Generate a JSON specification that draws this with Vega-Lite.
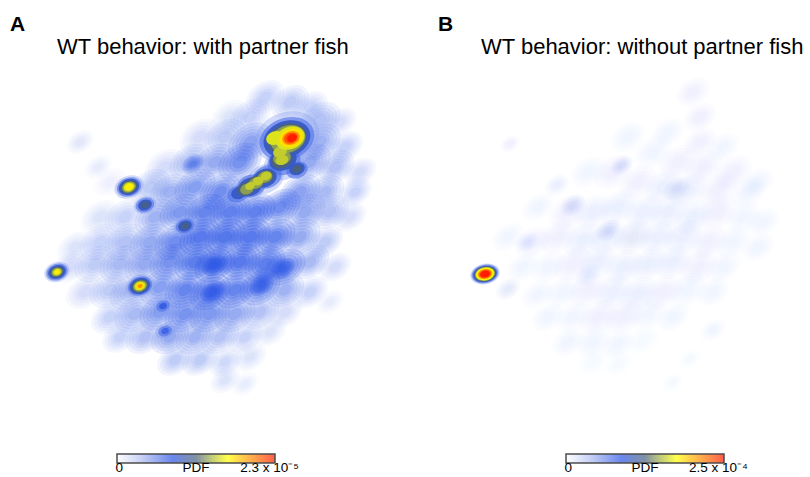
{
  "$schema": "https://vega.github.io/schema/vega-lite/v6.json",
  "background": "white",
  "padding": {"left": 10, "right": 2, "top": 14, "bottom": 0},
  "spacing": 38,
  "config": {
    "view": {"stroke": null},
    "title": {"anchor": "start", "font": "Liberation Sans", "color": "#000"},
    "legend": {"orient": "none", "legendY": 382, "direction": "horizontal", "title": null, "gradientLength": 158, "gradientThickness": 9, "gradientStrokeColor": "#000", "gradientStrokeWidth": 1.5, "labelFontSize": 13.5, "labelFont": "Liberation Sans", "labelColor": "#000", "labelOverlap": false}
  },
  "datasets": {
    "cloudA": [
      {"x": 255, "y": 25, "r": 14, "w": 0.2}, {"x": 280, "y": 30, "r": 14, "w": 0.25}, {"x": 300, "y": 35, "r": 13, "w": 0.2},
      {"x": 220, "y": 45, "r": 14, "w": 0.12}, {"x": 240, "y": 45, "r": 15, "w": 0.2}, {"x": 310, "y": 48, "r": 15, "w": 0.3}, {"x": 330, "y": 50, "r": 12, "w": 0.15},
      {"x": 190, "y": 65, "r": 15, "w": 0.15}, {"x": 215, "y": 65, "r": 15, "w": 0.25}, {"x": 240, "y": 70, "r": 16, "w": 0.5}, {"x": 310, "y": 70, "r": 15, "w": 0.4}, {"x": 335, "y": 75, "r": 13, "w": 0.2},
      {"x": 155, "y": 95, "r": 15, "w": 0.15}, {"x": 180, "y": 90, "r": 15, "w": 0.3}, {"x": 205, "y": 90, "r": 15, "w": 0.45}, {"x": 230, "y": 90, "r": 16, "w": 0.65}, {"x": 300, "y": 90, "r": 15, "w": 0.45}, {"x": 325, "y": 95, "r": 14, "w": 0.3}, {"x": 350, "y": 100, "r": 12, "w": 0.15},
      {"x": 100, "y": 110, "r": 12, "w": 0.06}, {"x": 140, "y": 115, "r": 15, "w": 0.25}, {"x": 160, "y": 120, "r": 15, "w": 0.4}, {"x": 185, "y": 115, "r": 15, "w": 0.55}, {"x": 210, "y": 120, "r": 15, "w": 0.7}, {"x": 290, "y": 120, "r": 15, "w": 0.5}, {"x": 315, "y": 120, "r": 14, "w": 0.35}, {"x": 345, "y": 120, "r": 12, "w": 0.2},
      {"x": 90, "y": 145, "r": 14, "w": 0.12}, {"x": 115, "y": 145, "r": 15, "w": 0.2}, {"x": 145, "y": 145, "r": 15, "w": 0.4}, {"x": 170, "y": 140, "r": 15, "w": 0.6}, {"x": 195, "y": 140, "r": 15, "w": 0.8}, {"x": 220, "y": 140, "r": 15, "w": 0.85}, {"x": 245, "y": 140, "r": 15, "w": 0.85}, {"x": 270, "y": 135, "r": 15, "w": 0.7}, {"x": 295, "y": 140, "r": 15, "w": 0.45}, {"x": 320, "y": 140, "r": 14, "w": 0.3}, {"x": 340, "y": 145, "r": 12, "w": 0.15},
      {"x": 65, "y": 175, "r": 13, "w": 0.12}, {"x": 90, "y": 170, "r": 15, "w": 0.2}, {"x": 115, "y": 170, "r": 15, "w": 0.3}, {"x": 140, "y": 170, "r": 15, "w": 0.45}, {"x": 165, "y": 170, "r": 15, "w": 0.7}, {"x": 190, "y": 165, "r": 15, "w": 0.95}, {"x": 215, "y": 165, "r": 15, "w": 1.0}, {"x": 240, "y": 165, "r": 15, "w": 0.95}, {"x": 265, "y": 165, "r": 15, "w": 0.8}, {"x": 290, "y": 165, "r": 15, "w": 0.45}, {"x": 315, "y": 170, "r": 13, "w": 0.25},
      {"x": 60, "y": 195, "r": 13, "w": 0.15}, {"x": 85, "y": 192, "r": 15, "w": 0.25}, {"x": 110, "y": 192, "r": 15, "w": 0.35}, {"x": 135, "y": 192, "r": 15, "w": 0.45}, {"x": 160, "y": 190, "r": 15, "w": 0.65}, {"x": 185, "y": 190, "r": 15, "w": 0.9}, {"x": 205, "y": 192, "r": 15, "w": 1.0}, {"x": 230, "y": 190, "r": 15, "w": 0.95}, {"x": 255, "y": 192, "r": 15, "w": 0.9}, {"x": 275, "y": 195, "r": 15, "w": 0.75}, {"x": 300, "y": 190, "r": 14, "w": 0.35}, {"x": 325, "y": 195, "r": 12, "w": 0.15},
      {"x": 75, "y": 220, "r": 14, "w": 0.15}, {"x": 100, "y": 218, "r": 15, "w": 0.25}, {"x": 120, "y": 220, "r": 15, "w": 0.3}, {"x": 150, "y": 215, "r": 15, "w": 0.55}, {"x": 175, "y": 218, "r": 15, "w": 0.8}, {"x": 200, "y": 220, "r": 15, "w": 0.95}, {"x": 225, "y": 218, "r": 15, "w": 0.8}, {"x": 250, "y": 215, "r": 15, "w": 0.8}, {"x": 275, "y": 218, "r": 14, "w": 0.4}, {"x": 300, "y": 220, "r": 13, "w": 0.2},
      {"x": 100, "y": 245, "r": 14, "w": 0.2}, {"x": 125, "y": 242, "r": 15, "w": 0.35}, {"x": 150, "y": 240, "r": 15, "w": 0.55}, {"x": 175, "y": 242, "r": 15, "w": 0.65}, {"x": 200, "y": 242, "r": 15, "w": 0.6}, {"x": 225, "y": 242, "r": 15, "w": 0.45}, {"x": 250, "y": 240, "r": 14, "w": 0.3}, {"x": 275, "y": 240, "r": 13, "w": 0.15},
      {"x": 110, "y": 265, "r": 13, "w": 0.2}, {"x": 135, "y": 265, "r": 14, "w": 0.3}, {"x": 160, "y": 265, "r": 14, "w": 0.45}, {"x": 185, "y": 265, "r": 14, "w": 0.4}, {"x": 210, "y": 265, "r": 14, "w": 0.3}, {"x": 235, "y": 265, "r": 13, "w": 0.2}, {"x": 260, "y": 260, "r": 12, "w": 0.12},
      {"x": 165, "y": 288, "r": 13, "w": 0.25}, {"x": 190, "y": 288, "r": 13, "w": 0.25}, {"x": 215, "y": 290, "r": 12, "w": 0.18}, {"x": 240, "y": 285, "r": 12, "w": 0.12},
      {"x": 215, "y": 308, "r": 11, "w": 0.12}, {"x": 235, "y": 312, "r": 10, "w": 0.08},
      {"x": 70, "y": 70, "r": 10, "w": 0.1}, {"x": 88, "y": 95, "r": 10, "w": 0.08}, {"x": 320, "y": 230, "r": 10, "w": 0.08},
      {"x": 205, "y": 193, "r": 9, "w": 0.9}, {"x": 272, "y": 197, "r": 9, "w": 0.8}, {"x": 203, "y": 220, "r": 9, "w": 0.85}, {"x": 252, "y": 212, "r": 9, "w": 0.8}, {"x": 183, "y": 92, "r": 8, "w": 0.6}
    ],
    "peaksA": [
      {"x": 277, "y": 65, "r": 33, "d": 0.22}, {"x": 274, "y": 92, "r": 21, "d": 0.22}, {"x": 255, "y": 107, "r": 19, "d": 0.22}, {"x": 237, "y": 117, "r": 18, "d": 0.22},
      {"x": 119, "y": 115, "r": 15, "d": 0.22}, {"x": 135, "y": 133, "r": 11.5, "d": 0.22}, {"x": 175, "y": 154, "r": 11.5, "d": 0.22}, {"x": 47, "y": 200, "r": 13, "d": 0.22}, {"x": 130, "y": 214, "r": 15, "d": 0.22}, {"x": 153, "y": 234, "r": 10, "d": 0.22}, {"x": 155, "y": 259, "r": 10, "d": 0.22},
      {"x": 277, "y": 67, "r": 28, "d": 0.3}, {"x": 274, "y": 90, "r": 17, "d": 0.3}, {"x": 287, "y": 98, "r": 11, "d": 0.3}, {"x": 257, "y": 105, "r": 15, "d": 0.3}, {"x": 241, "y": 114, "r": 15, "d": 0.3}, {"x": 228, "y": 122, "r": 11, "d": 0.3},
      {"x": 119, "y": 115, "r": 12.5, "d": 0.3}, {"x": 135, "y": 133, "r": 9.5, "d": 0.3}, {"x": 175, "y": 154, "r": 9.5, "d": 0.3}, {"x": 47, "y": 200, "r": 11, "d": 0.3}, {"x": 130, "y": 214, "r": 12.5, "d": 0.3}, {"x": 153, "y": 234, "r": 7, "d": 0.3}, {"x": 155, "y": 259, "r": 7, "d": 0.3},
      {"x": 155, "y": 259, "r": 4, "d": 0.34}, {"x": 153, "y": 234, "r": 4, "d": 0.36},
      {"x": 277, "y": 67, "r": 24, "d": 0.4}, {"x": 273, "y": 88, "r": 14, "d": 0.4}, {"x": 287, "y": 97, "r": 8, "d": 0.4}, {"x": 255, "y": 106, "r": 12, "d": 0.4}, {"x": 240, "y": 115, "r": 12, "d": 0.4}, {"x": 229, "y": 121, "r": 8, "d": 0.4},
      {"x": 119, "y": 115, "r": 10.5, "d": 0.4}, {"x": 135, "y": 133, "r": 7, "d": 0.4}, {"x": 175, "y": 154, "r": 7, "d": 0.4}, {"x": 47, "y": 200, "r": 9, "d": 0.4}, {"x": 130, "y": 214, "r": 10.5, "d": 0.4},
      {"x": 135, "y": 133, "r": 4.5, "d": 0.48}, {"x": 175, "y": 154, "r": 4.5, "d": 0.48},
      {"x": 277, "y": 67, "r": 20, "d": 0.5}, {"x": 272, "y": 88, "r": 11, "d": 0.5}, {"x": 287, "y": 97, "r": 5, "d": 0.5}, {"x": 255, "y": 105, "r": 9, "d": 0.5}, {"x": 245, "y": 111, "r": 9, "d": 0.5}, {"x": 236, "y": 117, "r": 9, "d": 0.5},
      {"x": 119, "y": 115, "r": 8.5, "d": 0.5}, {"x": 47, "y": 200, "r": 7, "d": 0.5}, {"x": 130, "y": 214, "r": 8.5, "d": 0.5},
      {"x": 278, "y": 67, "r": 18, "d": 0.57}, {"x": 272, "y": 86, "r": 9, "d": 0.57}, {"x": 255, "y": 105, "r": 7.5, "d": 0.57}, {"x": 246, "y": 111, "r": 7.5, "d": 0.57}, {"x": 237, "y": 117, "r": 7, "d": 0.57},
      {"x": 119, "y": 115, "r": 7, "d": 0.58}, {"x": 47, "y": 200, "r": 5.5, "d": 0.58}, {"x": 130, "y": 214, "r": 7, "d": 0.58},
      {"x": 270, "y": 80, "r": 7, "d": 0.63}, {"x": 272, "y": 88, "r": 6.5, "d": 0.63}, {"x": 256, "y": 104, "r": 5.5, "d": 0.63}, {"x": 248, "y": 109, "r": 5.5, "d": 0.63}, {"x": 240, "y": 114, "r": 5, "d": 0.63},
      {"x": 280, "y": 66, "r": 15, "d": 0.66}, {"x": 265, "y": 66, "r": 9, "d": 0.66},
      {"x": 119, "y": 115, "r": 5.5, "d": 0.66}, {"x": 47, "y": 200, "r": 4, "d": 0.66}, {"x": 130, "y": 214, "r": 5.5, "d": 0.66},
      {"x": 119, "y": 115, "r": 4, "d": 0.72}, {"x": 47, "y": 200, "r": 2.5, "d": 0.72},
      {"x": 281, "y": 66, "r": 12, "d": 0.74}, {"x": 130, "y": 214, "r": 4, "d": 0.74},
      {"x": 281, "y": 66, "r": 9, "d": 0.84}, {"x": 130, "y": 214, "r": 2.5, "d": 0.84},
      {"x": 281, "y": 66, "r": 7, "d": 0.93},
      {"x": 282, "y": 66, "r": 5, "d": 1.0}
    ],
    "cloudB": [
      {"x": 255, "y": 20, "r": 12, "w": 0.07}, {"x": 262, "y": 45, "r": 12, "w": 0.08}, {"x": 262, "y": 70, "r": 12, "w": 0.08},
      {"x": 230, "y": 60, "r": 12, "w": 0.05}, {"x": 285, "y": 75, "r": 12, "w": 0.06},
      {"x": 190, "y": 65, "r": 13, "w": 0.05}, {"x": 215, "y": 80, "r": 14, "w": 0.06}, {"x": 240, "y": 90, "r": 14, "w": 0.08}, {"x": 265, "y": 95, "r": 14, "w": 0.07}, {"x": 295, "y": 100, "r": 14, "w": 0.07}, {"x": 320, "y": 110, "r": 12, "w": 0.05},
      {"x": 150, "y": 100, "r": 13, "w": 0.06}, {"x": 175, "y": 100, "r": 14, "w": 0.07}, {"x": 200, "y": 110, "r": 14, "w": 0.08}, {"x": 225, "y": 115, "r": 14, "w": 0.09}, {"x": 250, "y": 118, "r": 14, "w": 0.09}, {"x": 280, "y": 118, "r": 14, "w": 0.08}, {"x": 310, "y": 120, "r": 13, "w": 0.06},
      {"x": 100, "y": 135, "r": 12, "w": 0.05}, {"x": 130, "y": 140, "r": 14, "w": 0.08}, {"x": 155, "y": 140, "r": 14, "w": 0.09}, {"x": 180, "y": 135, "r": 14, "w": 0.1}, {"x": 205, "y": 140, "r": 14, "w": 0.1}, {"x": 230, "y": 140, "r": 14, "w": 0.09}, {"x": 255, "y": 145, "r": 14, "w": 0.09}, {"x": 280, "y": 140, "r": 14, "w": 0.08}, {"x": 305, "y": 145, "r": 13, "w": 0.06}, {"x": 325, "y": 150, "r": 12, "w": 0.05},
      {"x": 70, "y": 165, "r": 12, "w": 0.06}, {"x": 95, "y": 170, "r": 13, "w": 0.08}, {"x": 120, "y": 165, "r": 14, "w": 0.08}, {"x": 145, "y": 168, "r": 14, "w": 0.09}, {"x": 170, "y": 165, "r": 14, "w": 0.1}, {"x": 195, "y": 165, "r": 14, "w": 0.11}, {"x": 220, "y": 165, "r": 14, "w": 0.1}, {"x": 245, "y": 165, "r": 14, "w": 0.09}, {"x": 270, "y": 170, "r": 14, "w": 0.08}, {"x": 295, "y": 170, "r": 13, "w": 0.06}, {"x": 320, "y": 175, "r": 12, "w": 0.05},
      {"x": 85, "y": 195, "r": 12, "w": 0.05}, {"x": 110, "y": 195, "r": 13, "w": 0.06}, {"x": 135, "y": 192, "r": 14, "w": 0.08}, {"x": 160, "y": 190, "r": 14, "w": 0.09}, {"x": 185, "y": 195, "r": 14, "w": 0.1}, {"x": 210, "y": 192, "r": 14, "w": 0.09}, {"x": 235, "y": 190, "r": 14, "w": 0.09}, {"x": 260, "y": 195, "r": 14, "w": 0.08}, {"x": 285, "y": 195, "r": 13, "w": 0.06},
      {"x": 70, "y": 217, "r": 9, "w": 0.12},
      {"x": 100, "y": 222, "r": 12, "w": 0.05}, {"x": 125, "y": 220, "r": 13, "w": 0.06}, {"x": 150, "y": 218, "r": 14, "w": 0.08}, {"x": 175, "y": 220, "r": 14, "w": 0.09}, {"x": 200, "y": 222, "r": 14, "w": 0.09}, {"x": 225, "y": 220, "r": 14, "w": 0.08}, {"x": 250, "y": 218, "r": 14, "w": 0.06}, {"x": 275, "y": 220, "r": 12, "w": 0.05},
      {"x": 110, "y": 245, "r": 12, "w": 0.05}, {"x": 135, "y": 245, "r": 13, "w": 0.06}, {"x": 160, "y": 245, "r": 14, "w": 0.08}, {"x": 185, "y": 245, "r": 14, "w": 0.08}, {"x": 210, "y": 242, "r": 13, "w": 0.06}, {"x": 235, "y": 245, "r": 12, "w": 0.05}, {"x": 275, "y": 258, "r": 9, "w": 0.06},
      {"x": 130, "y": 270, "r": 12, "w": 0.05}, {"x": 155, "y": 270, "r": 13, "w": 0.06}, {"x": 180, "y": 272, "r": 12, "w": 0.05}, {"x": 205, "y": 268, "r": 12, "w": 0.04},
      {"x": 155, "y": 290, "r": 11, "w": 0.04}, {"x": 180, "y": 292, "r": 10, "w": 0.04}, {"x": 235, "y": 310, "r": 8, "w": 0.03}, {"x": 252, "y": 287, "r": 8, "w": 0.03},
      {"x": 135, "y": 133, "r": 9, "w": 0.14}, {"x": 170, "y": 158, "r": 9, "w": 0.14}, {"x": 184, "y": 93, "r": 8, "w": 0.13}, {"x": 239, "y": 117, "r": 10, "w": 0.12}, {"x": 119, "y": 113, "r": 9, "w": 0.1}, {"x": 89, "y": 170, "r": 8, "w": 0.1}, {"x": 149, "y": 203, "r": 9, "w": 0.1}, {"x": 72, "y": 72, "r": 7, "w": 0.08}
    ],
    "peaksB": [
      {"x": 47, "y": 202, "r": 15, "d": 0.22}, {"x": 47, "y": 202, "r": 13.5, "d": 0.3}, {"x": 47, "y": 202, "r": 12, "d": 0.4}, {"x": 47, "y": 202, "r": 11, "d": 0.5}, {"x": 47, "y": 202, "r": 10, "d": 0.6}, {"x": 47, "y": 202, "r": 9, "d": 0.7}, {"x": 47, "y": 202, "r": 7.5, "d": 0.8}, {"x": 47, "y": 202, "r": 6.5, "d": 0.9}, {"x": 47, "y": 202, "r": 5, "d": 1.0}
    ]
  },
  "hconcat": [
    {
      "title": {"text": "A", "fontSize": 21, "fontWeight": "bold", "offset": 1},
      "vconcat": [
        {
          "width": 390, "height": 340,
          "title": {"text": "WT behavior: with partner fish", "fontSize": 22, "fontWeight": "normal", "dx": 47, "offset": 13},
          "layer": [
            {"data": {"name": "cloudA"}, "mark": {"type": "point", "filled": true, "shape": "M-1,0A1,0.7,0,1,1,1,0A1,0.7,0,1,1,-1,0Z", "angle": -35, "color": "#2a55e6", "strokeWidth": 0},
             "encoding": {"x": {"field": "x", "type": "quantitative", "scale": {"domain": [0, 390]}, "axis": null}, "y": {"field": "y", "type": "quantitative", "scale": {"domain": [0, 340], "reverse": true}, "axis": null},
              "size": {"field": "r", "type": "quantitative", "scale": {"type": "pow", "exponent": 2, "domain": [0, 40], "range": [0, 14400]}, "legend": null},
              "opacity": {"field": "w", "type": "quantitative", "scale": {"domain": [0, 1], "range": [0, 0.24]}, "legend": null}}},
            {"data": {"name": "cloudA"}, "mark": {"type": "point", "filled": true, "shape": "M-1,0A1,0.7,0,1,1,1,0A1,0.7,0,1,1,-1,0Z", "angle": -35, "color": "#2a55e6", "strokeWidth": 0},
             "encoding": {"x": {"field": "x", "type": "quantitative", "scale": {"domain": [0, 390]}, "axis": null}, "y": {"field": "y", "type": "quantitative", "scale": {"domain": [0, 340], "reverse": true}, "axis": null},
              "size": {"field": "r", "type": "quantitative", "scale": {"type": "pow", "exponent": 2, "domain": [0, 40], "range": [0, 10000]}, "legend": null},
              "opacity": {"field": "w", "type": "quantitative", "scale": {"domain": [0, 1], "range": [0, 0.25]}, "legend": null}}},
            {"data": {"name": "cloudA"}, "mark": {"type": "point", "filled": true, "shape": "M-1,0A1,0.7,0,1,1,1,0A1,0.7,0,1,1,-1,0Z", "angle": -35, "color": "#2a55e6", "strokeWidth": 0},
             "encoding": {"x": {"field": "x", "type": "quantitative", "scale": {"domain": [0, 390]}, "axis": null}, "y": {"field": "y", "type": "quantitative", "scale": {"domain": [0, 340], "reverse": true}, "axis": null},
              "size": {"field": "r", "type": "quantitative", "scale": {"type": "pow", "exponent": 2, "domain": [0, 40], "range": [0, 6400]}, "legend": null},
              "opacity": {"field": "w", "type": "quantitative", "scale": {"domain": [0, 1], "range": [0, 0.27]}, "legend": null}}},
            {"data": {"name": "cloudA"}, "mark": {"type": "point", "filled": true, "shape": "M-1,0A1,0.7,0,1,1,1,0A1,0.7,0,1,1,-1,0Z", "angle": -35, "color": "#2a55e6", "strokeWidth": 0},
             "encoding": {"x": {"field": "x", "type": "quantitative", "scale": {"domain": [0, 390]}, "axis": null}, "y": {"field": "y", "type": "quantitative", "scale": {"domain": [0, 340], "reverse": true}, "axis": null},
              "size": {"field": "r", "type": "quantitative", "scale": {"type": "pow", "exponent": 2, "domain": [0, 40], "range": [0, 3600]}, "legend": null},
              "opacity": {"field": "w", "type": "quantitative", "scale": {"domain": [0, 1], "range": [0, 0.29]}, "legend": null}}},
            {"data": {"name": "cloudA"}, "mark": {"type": "point", "filled": true, "shape": "M-1,0A1,0.7,0,1,1,1,0A1,0.7,0,1,1,-1,0Z", "angle": -35, "color": "#2a55e6", "strokeWidth": 0},
             "encoding": {"x": {"field": "x", "type": "quantitative", "scale": {"domain": [0, 390]}, "axis": null}, "y": {"field": "y", "type": "quantitative", "scale": {"domain": [0, 340], "reverse": true}, "axis": null},
              "size": {"field": "r", "type": "quantitative", "scale": {"type": "pow", "exponent": 2, "domain": [0, 40], "range": [0, 1600]}, "legend": null},
              "opacity": {"field": "w", "type": "quantitative", "scale": {"domain": [0, 1], "range": [0, 0.31]}, "legend": null}}},
            {"data": {"name": "peaksA"}, "mark": {"type": "point", "filled": true, "shape": "M-1,0A1,0.75,0,1,1,1,0A1,0.75,0,1,1,-1,0Z", "angle": -20, "strokeWidth": 0},
             "encoding": {"x": {"field": "x", "type": "quantitative", "scale": {"domain": [0, 390]}, "axis": null}, "y": {"field": "y", "type": "quantitative", "scale": {"domain": [0, 340], "reverse": true}, "axis": null},
              "size": {"field": "r", "type": "quantitative", "scale": {"type": "pow", "exponent": 2, "domain": [0, 40], "range": [0, 6400]}, "legend": null},
              "opacity": {"field": "d", "type": "quantitative", "scale": {"domain": [0.2, 0.42], "range": [0.3, 1], "clamp": true}, "legend": null},
              "order": {"field": "d", "type": "quantitative"},
              "color": {"field": "d", "type": "quantitative", "scale": {"domain": [0, 0.15, 0.35, 0.5, 0.6, 0.7, 0.85, 1], "range": ["#ffffff", "#b4c0f2", "#2a55e6", "#4a6280", "#a8b840", "#ffff00", "#ff8c00", "#ff1a00"], "interpolate": "rgb"},
               "legend": {"legendX": 107, "values": [0.015, 0.5, 0.965], "labelAlign": "center", "labelOffset": -2, "labelExpr": "datum.value < 0.1 ? '0' : datum.value < 0.9 ? 'PDF' : '2.3 x 10\u207b\u2075'"}}}}
          ],
          "resolve": {"scale": {"size": "independent", "opacity": "independent"}}
        }
      ]
    },
    {
      "title": {"text": "B", "fontSize": 21, "fontWeight": "bold", "offset": 1},
      "vconcat": [
        {
          "width": 370, "height": 340,
          "title": {"text": "WT behavior: without partner fish", "fontSize": 22, "fontWeight": "normal", "dx": 43, "offset": 13},
          "layer": [
            {"data": {"name": "cloudB"}, "mark": {"type": "point", "filled": true, "shape": "M-1,0A1,0.7,0,1,1,1,0A1,0.7,0,1,1,-1,0Z", "angle": -35, "color": "#2a55e6", "strokeWidth": 0},
             "encoding": {"x": {"field": "x", "type": "quantitative", "scale": {"domain": [0, 370]}, "axis": null}, "y": {"field": "y", "type": "quantitative", "scale": {"domain": [0, 340], "reverse": true}, "axis": null},
              "size": {"field": "r", "type": "quantitative", "scale": {"type": "pow", "exponent": 2, "domain": [0, 40], "range": [0, 14400]}, "legend": null},
              "opacity": {"field": "w", "type": "quantitative", "scale": {"domain": [0, 1], "range": [0, 0.2]}, "legend": null}}},
            {"data": {"name": "cloudB"}, "mark": {"type": "point", "filled": true, "shape": "M-1,0A1,0.7,0,1,1,1,0A1,0.7,0,1,1,-1,0Z", "angle": -35, "color": "#2a55e6", "strokeWidth": 0},
             "encoding": {"x": {"field": "x", "type": "quantitative", "scale": {"domain": [0, 370]}, "axis": null}, "y": {"field": "y", "type": "quantitative", "scale": {"domain": [0, 340], "reverse": true}, "axis": null},
              "size": {"field": "r", "type": "quantitative", "scale": {"type": "pow", "exponent": 2, "domain": [0, 40], "range": [0, 10000]}, "legend": null},
              "opacity": {"field": "w", "type": "quantitative", "scale": {"domain": [0, 1], "range": [0, 0.2]}, "legend": null}}},
            {"data": {"name": "cloudB"}, "mark": {"type": "point", "filled": true, "shape": "M-1,0A1,0.7,0,1,1,1,0A1,0.7,0,1,1,-1,0Z", "angle": -35, "color": "#2a55e6", "strokeWidth": 0},
             "encoding": {"x": {"field": "x", "type": "quantitative", "scale": {"domain": [0, 370]}, "axis": null}, "y": {"field": "y", "type": "quantitative", "scale": {"domain": [0, 340], "reverse": true}, "axis": null},
              "size": {"field": "r", "type": "quantitative", "scale": {"type": "pow", "exponent": 2, "domain": [0, 40], "range": [0, 6400]}, "legend": null},
              "opacity": {"field": "w", "type": "quantitative", "scale": {"domain": [0, 1], "range": [0, 0.2]}, "legend": null}}},
            {"data": {"name": "cloudB"}, "mark": {"type": "point", "filled": true, "shape": "M-1,0A1,0.7,0,1,1,1,0A1,0.7,0,1,1,-1,0Z", "angle": -35, "color": "#2a55e6", "strokeWidth": 0},
             "encoding": {"x": {"field": "x", "type": "quantitative", "scale": {"domain": [0, 370]}, "axis": null}, "y": {"field": "y", "type": "quantitative", "scale": {"domain": [0, 340], "reverse": true}, "axis": null},
              "size": {"field": "r", "type": "quantitative", "scale": {"type": "pow", "exponent": 2, "domain": [0, 40], "range": [0, 3600]}, "legend": null},
              "opacity": {"field": "w", "type": "quantitative", "scale": {"domain": [0, 1], "range": [0, 0.2]}, "legend": null}}},
            {"data": {"name": "cloudB"}, "mark": {"type": "point", "filled": true, "shape": "M-1,0A1,0.7,0,1,1,1,0A1,0.7,0,1,1,-1,0Z", "angle": -35, "color": "#2a55e6", "strokeWidth": 0},
             "encoding": {"x": {"field": "x", "type": "quantitative", "scale": {"domain": [0, 370]}, "axis": null}, "y": {"field": "y", "type": "quantitative", "scale": {"domain": [0, 340], "reverse": true}, "axis": null},
              "size": {"field": "r", "type": "quantitative", "scale": {"type": "pow", "exponent": 2, "domain": [0, 40], "range": [0, 1600]}, "legend": null},
              "opacity": {"field": "w", "type": "quantitative", "scale": {"domain": [0, 1], "range": [0, 0.2]}, "legend": null}}},
            {"data": {"name": "peaksB"}, "mark": {"type": "point", "filled": true, "shape": "M-1,0A1,0.68,0,1,1,1,0A1,0.68,0,1,1,-1,0Z", "angle": -12, "strokeWidth": 0},
             "encoding": {"x": {"field": "x", "type": "quantitative", "scale": {"domain": [0, 370]}, "axis": null}, "y": {"field": "y", "type": "quantitative", "scale": {"domain": [0, 340], "reverse": true}, "axis": null},
              "size": {"field": "r", "type": "quantitative", "scale": {"type": "pow", "exponent": 2, "domain": [0, 40], "range": [0, 6400]}, "legend": null},
              "opacity": {"field": "d", "type": "quantitative", "scale": {"domain": [0.2, 0.42], "range": [0.3, 1], "clamp": true}, "legend": null},
              "order": {"field": "d", "type": "quantitative"},
              "color": {"field": "d", "type": "quantitative", "scale": {"domain": [0, 0.15, 0.35, 0.5, 0.6, 0.7, 0.85, 1], "range": ["#ffffff", "#b4c0f2", "#2a55e6", "#4a6280", "#a8b840", "#ffff00", "#ff8c00", "#ff1a00"], "interpolate": "rgb"},
               "legend": {"legendX": 128, "values": [0.015, 0.5, 0.965], "labelAlign": "center", "labelOffset": -2, "labelExpr": "datum.value < 0.1 ? '0' : datum.value < 0.9 ? 'PDF' : '2.5 x 10\u207b\u2074'"}}}}
          ],
          "resolve": {"scale": {"size": "independent", "opacity": "independent"}}
        }
      ]
    }
  ],
  "resolve": {"scale": {"color": "independent"}, "legend": {"color": "independent"}}
}
